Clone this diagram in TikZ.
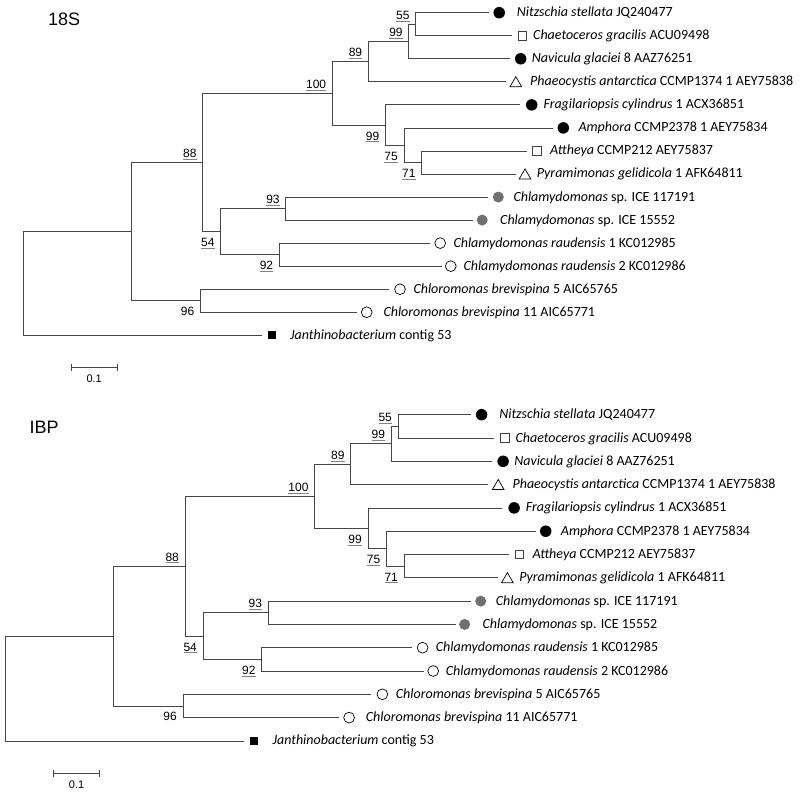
\documentclass[tikz,border=0pt]{standalone}
\usepackage{fontspec}
\setmainfont{Carlito}
\newfontfamily\arialfont{Liberation Sans}
\usepackage{tikz}
\usetikzlibrary{arrows.meta}
\usetikzlibrary{shapes.geometric,positioning}
\definecolor{branchgray}{RGB}{70,70,70}
\definecolor{dotgray}{RGB}{112,112,112}
\definecolor{ulgray}{RGB}{130,130,130}
\newcommand{\bsv}[1]{\rlap{\textcolor{ulgray}{\underline{\phantom{#1}}}}#1}
\tikzset{
    branch/.style={line width=0.8pt, branchgray},
    leafdot/.style={circle, fill=black, inner sep=0pt, minimum size=11.5pt},
    leafgrey/.style={circle, fill=dotgray, inner sep=0pt, minimum size=11pt},
    leafring/.style={circle, draw=black, fill=white, line width=0.7pt, inner sep=0pt, minimum size=10.8pt},
    leafbox/.style={rectangle, draw=black!75, fill=white, line width=0.7pt, inner sep=0pt, minimum size=8.6pt},
    leafblack/.style={rectangle, fill=black, inner sep=0pt, minimum size=8pt},
    leaftri/.style={regular polygon, regular polygon sides=3, draw=black, line width=0.7pt, inner sep=0pt, minimum size=13.5pt, yshift=-1.6pt},
    taxon/.style={anchor=base west, inner sep=0pt, yshift=-4pt, font=\fontsize{14}{16}\selectfont},
    % bootstrap values above / below the node
    bsup/.style={anchor=base east, inner sep=0pt, xshift=-6pt, yshift=5pt, font=\arialfont\fontsize{12}{14}\selectfont},
    bsdown/.style={anchor=base east, inner sep=0pt, xshift=-6pt, yshift=-15pt, font=\arialfont\fontsize{12}{14}\selectfont},
    treetitle/.style={inner sep=0pt, font=\arialfont\fontsize{18}{20}\selectfont},
    scalelbl/.style={inner sep=0pt, font=\arialfont\fontsize{11}{13}\selectfont}
}
% one tree, x in px, y in leaf rows
\newcommand{\phylotree}{%
    \path
    (415.7,0.5) coordinate (G)
    (408.8,1.25) coordinate (F)
    (368.3,2.125) coordinate (E)
    (332.3,3.5) coordinate (D)
    (385.5,4.875) coordinate (H)
    (404,5.75) coordinate (I)
    (421.7,6.5) coordinate (J)
    (285.8,8.5) coordinate (K)
    (279.3,10.5) coordinate (L)
    (220.7,9.5) coordinate (C)
    (202.7,6.5) coordinate (B)
    (200.5,12.5) coordinate (M)
    (131,9.5) coordinate (A)
    (23,11.75) coordinate (R);
    \path
    (489,0) coordinate (l0)
    (511.7,1) coordinate (l1)
    (510,2) coordinate (l2)
    (506,3) coordinate (l3)
    (520,4) coordinate (l4)
    (553.3,5) coordinate (l5)
    (526.7,6) coordinate (l6)
    (515.7,7) coordinate (l7)
    (488.3,8) coordinate (l8)
    (473.3,9) coordinate (l9)
    (430,10) coordinate (l10)
    (441.7,11) coordinate (l11)
    (389,12) coordinate (l12)
    (356.7,13) coordinate (l13)
    (261.7,14) coordinate (l14);
    % branches
    \draw[branch] (R) |- (A);
    \draw[branch] (R) |- (l14);
    \draw[branch] (A) |- (B);
    \draw[branch] (A) |- (M);
    \draw[branch] (B) |- (D);
    \draw[branch] (B) |- (C);
    \draw[branch] (D) |- (E);
    \draw[branch] (D) |- (H);
    \draw[branch] (E) |- (F);
    \draw[branch] (E) |- (l3);
    \draw[branch] (F) |- (G);
    \draw[branch] (F) |- (l2);
    \draw[branch] (G) |- (l0);
    \draw[branch] (G) |- (l1);
    \draw[branch] (H) |- (l4);
    \draw[branch] (H) |- (I);
    \draw[branch] (I) |- (l5);
    \draw[branch] (I) |- (J);
    \draw[branch] (J) |- (l6);
    \draw[branch] (J) |- (l7);
    \draw[branch] (C) |- (K);
    \draw[branch] (C) |- (L);
    \draw[branch] (K) |- (l8);
    \draw[branch] (K) |- (l9);
    \draw[branch] (L) |- (l10);
    \draw[branch] (L) |- (l11);
    \draw[branch] (M) |- (l12);
    \draw[branch] (M) |- (l13);
    % markers
    \node[leafdot] (m0) at (499.2,0) {};
    \node[leafbox] (m1) at (522.2,1) {};
    \node[leafdot] (m2) at (520.7,2) {};
    \node[leaftri] (m3) at (515.8,3) {};
    \node[leafdot] (m4) at (531.7,4) {};
    \node[leafdot] (m5) at (563.3,5) {};
    \node[leafbox] (m6) at (537,6) {};
    \node[leaftri] (m7) at (525,7) {};
    \node[leafgrey] (m8) at (498.3,8) {};
    \node[leafgrey] (m9) at (482.2,9) {};
    \node[leafring] (m10) at (440.2,10) {};
    \node[leafring] (m11) at (450.8,11) {};
    \node[leafring] (m12) at (400,12) {};
    \node[leafring] (m13) at (366.7,13) {};
    \node[leafblack] (m14) at (272,14) {};
    % taxa
    \node[taxon] (t0) at (516.7,0) {\textit{Nitzschia stellata} JQ240477};
    \node[taxon] (t1) at (533,1) {\textit{Chaetoceros gracilis} ACU09498};
    \node[taxon] (t2) at (531.7,2) {\textit{Navicula glaciei} 8 AAZ76251};
    \node[taxon] (t3) at (530,3) {\textit{Phaeocystis antarctica} CCMP1374 1 AEY75838};
    \node[taxon] (t4) at (543.3,4) {\textit{Fragilariopsis cylindrus} 1 ACX36851};
    \node[taxon] (t5) at (578.3,5) {\textit{Amphora} CCMP2378 1 AEY75834};
    \node[taxon] (t6) at (550,6) {\textit{Attheya} CCMP212 AEY75837};
    \node[taxon] (t7) at (536.7,7) {\textit{Pyramimonas gelidicola} 1 AFK64811};
    \node[taxon] (t8) at (513.3,8) {\textit{Chlamydomonas} sp. ICE 117191};
    \node[taxon] (t9) at (500,9) {\textit{Chlamydomonas} sp. ICE 15552};
    \node[taxon] (t10) at (453.3,10) {\textit{Chlamydomonas raudensis} 1 KC012985};
    \node[taxon] (t11) at (463.3,11) {\textit{Chlamydomonas raudensis} 2 KC012986};
    \node[taxon] (t12) at (413.3,12) {\textit{Chloromonas brevispina} 5 AIC65765};
    \node[taxon] (t13) at (383.3,13) {\textit{Chloromonas brevispina} 11 AIC65771};
    \node[taxon] (t14) at (290,14) {\textit{Janthinobacterium} contig 53};
    % bootstrap
    \node[bsup] (b55) at (G) {\bsv{55}};
    \node[bsup] (b99a) at (F) {\bsv{99}};
    \node[bsup] (b89) at (E) {\bsv{89}};
    \node[bsup] (b100) at (D) {\bsv{100}};
    \node[bsup] (b88) at (B) {\bsv{88}};
    \node[bsup] (b93) at (K) {\bsv{93}};
    \node[bsdown] (b99b) at (H) {\bsv{99}};
    \node[bsdown] (b75) at (I) {\bsv{75}};
    \node[bsdown] (b71) at (J) {\bsv{71}};
    \node[bsdown] (b54) at (C) {\bsv{54}};
    \node[bsdown] (b92) at (L) {\bsv{92}};
    \node[bsdown] (b96) at (M) {96};
    % scale bar
    \path
    (71,15.4) coordinate (s1)
    (117.3,15.4) coordinate (s2)
    (94.2,15.4) coordinate (smid);
    \draw[branch, {Bar[width=7pt]}-{Bar[width=7pt]}] (s1) -- (s2);
    \node[scalelbl, below=7pt of smid] (slbl) {0.1};
}

\begin{document}
\begin{tikzpicture}[x=1pt, y=-1pt]
    \useasboundingbox (0,0) rectangle (800,793);
    % ===================== 18S =====================
    \node[treetitle] (t18s) at (64.2,19.7) {18S};
    \begin{scope}[shift={(0pt,-12.7pt)}, x=1pt, y=-23.04pt]
        \phylotree
    \end{scope}
    % ===================== IBP =====================
    \node[treetitle] (tibp) at (44.2,427.3) {IBP};
    \begin{scope}[shift={(-17.6pt,-414.7pt)}, x=1pt, y=-23.3pt]
        \phylotree
    \end{scope}
\end{tikzpicture}
\end{document}
